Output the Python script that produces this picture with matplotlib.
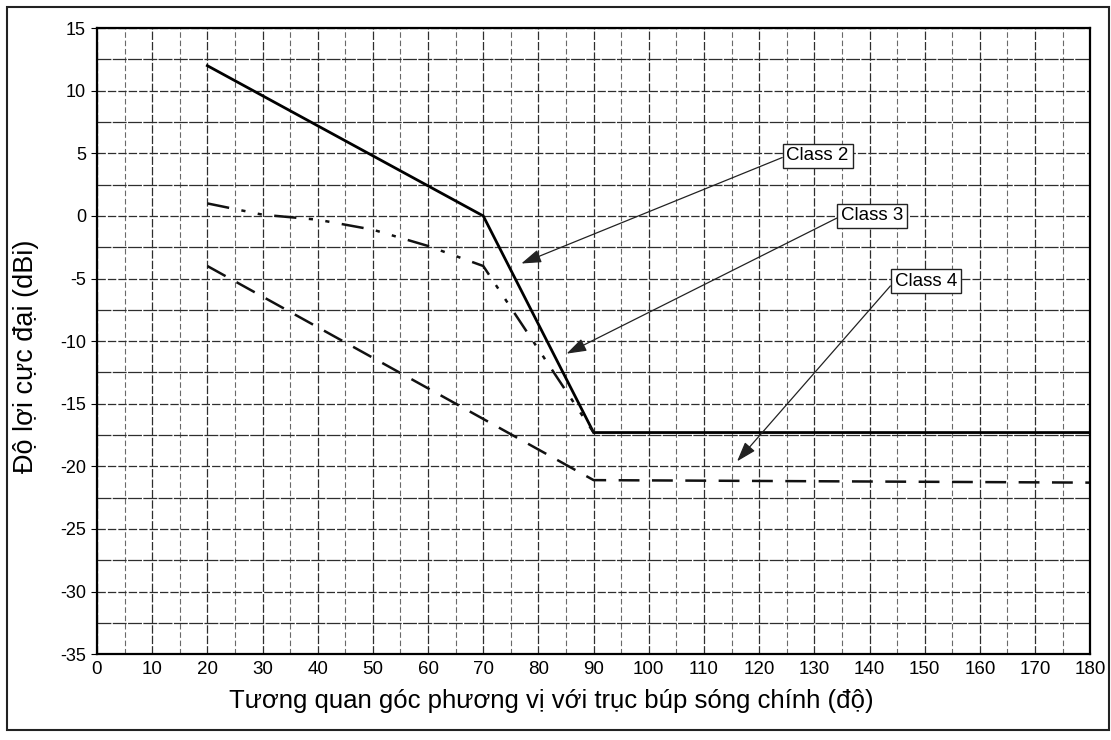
import matplotlib
matplotlib.use('Agg')
import matplotlib.pyplot as plt
from matplotlib.patches import Rectangle
import numpy as np

plt.rcParams['font.family'] = ['Liberation Sans', 'DejaVu Sans']
plt.rcParams['lines.scale_dashes'] = False
plt.rcParams['axes.unicode_minus'] = False

# data
class2_x = [20, 70, 90, 180]
class2_y = [12, 0, -17.3, -17.3]
class3_x = [20, 30, 40, 50, 60, 70, 90]
class3_y = [1, 0.1, -0.3, -1.1, -2.4, -4, -17.3]
class4_x = [20, 90, 180]
class4_y = [-4, -21.1, -21.3]

x_ticks = list(range(0, 181, 10))
y_ticks = list(range(-35, 16, 5))

labels = ['Class 2', 'Class 3', 'Class 4']
label_pos = [(130.6, 4.8), (140.5, 0.0), (150.2, -5.2)]
arrow_tips = [(76.9, -3.8), (85.1, -11.0), (116.0, -19.6)]

fig = plt.figure(figsize=(11.11, 7.40), dpi=100)
ax = fig.add_axes([0.0873, 0.116, 0.894, 0.846])

# grid: every 5 deg and every 2.5 dB
ax.set_xticks(x_ticks)
ax.set_xticks(np.arange(5, 180, 10), minor=True)
ax.set_yticks(y_ticks)
ax.set_yticks(np.arange(-32.5, 15, 5), minor=True)
ax.grid(True, which='major', color='#2e2e2e', linestyle=(0, (6, 1.5)), linewidth=0.9)
ax.grid(True, which='minor', axis='y', color='#2e2e2e', linestyle=(0, (10, 1)), linewidth=0.9)
ax.grid(True, which='minor', axis='x', color='#6a6a6a', linestyle=(0, (4, 2)), linewidth=0.8)

ax.plot(class2_x, class2_y, color='black', linewidth=2.0, solid_joinstyle='miter')
ax.plot(class3_x, class3_y, color='#111111', linewidth=1.8,
        linestyle=(0, (16, 9, 3, 9, 3, 9)))
ax.plot(class4_x, class4_y, color='#111111', linewidth=1.8,
        linestyle=(0, (15, 9)))

for lab, (tx, ty), (px, py) in zip(labels, label_pos, arrow_tips):
    ax.annotate(lab, xy=(px, py), xytext=(tx, ty), textcoords='data',
                fontsize=13.5, ha='center', va='center',
                bbox=dict(boxstyle='square,pad=0.2', fc='white', ec='#222222', lw=1.0),
                arrowprops=dict(arrowstyle='-|>,head_length=0.9,head_width=0.3',
                                color='#222222', lw=0.9, relpos=(0, 0.5),
                                shrinkA=0, shrinkB=0))

ax.set_xlim(0, 180)
ax.set_ylim(-35, 15)
ax.tick_params(axis='x', which='both', length=0, labelsize=13.5, pad=5)
ax.tick_params(axis='y', which='major', length=4, labelsize=13, pad=4)
ax.tick_params(axis='y', which='minor', length=0)
for s in ax.spines.values():
    s.set_linewidth(1.6)
    s.set_color('black')

ax.set_xlabel('Tương quan góc phương vị với trục búp sóng chính (độ)', fontsize=18.5)
ax.xaxis.set_label_coords(0.457, -0.055)
ax.set_ylabel('Độ lợi cực đại (dBi)', fontsize=19.5)
ax.yaxis.set_label_coords(-0.058, 0.476)

# outer frame around the whole picture
fig.patches.append(Rectangle((0.006, 0.013), 0.992, 0.978, transform=fig.transFigure,
                             fill=False, ec='#222222', lw=1.5))

fig.savefig('out.png', dpi=100)
